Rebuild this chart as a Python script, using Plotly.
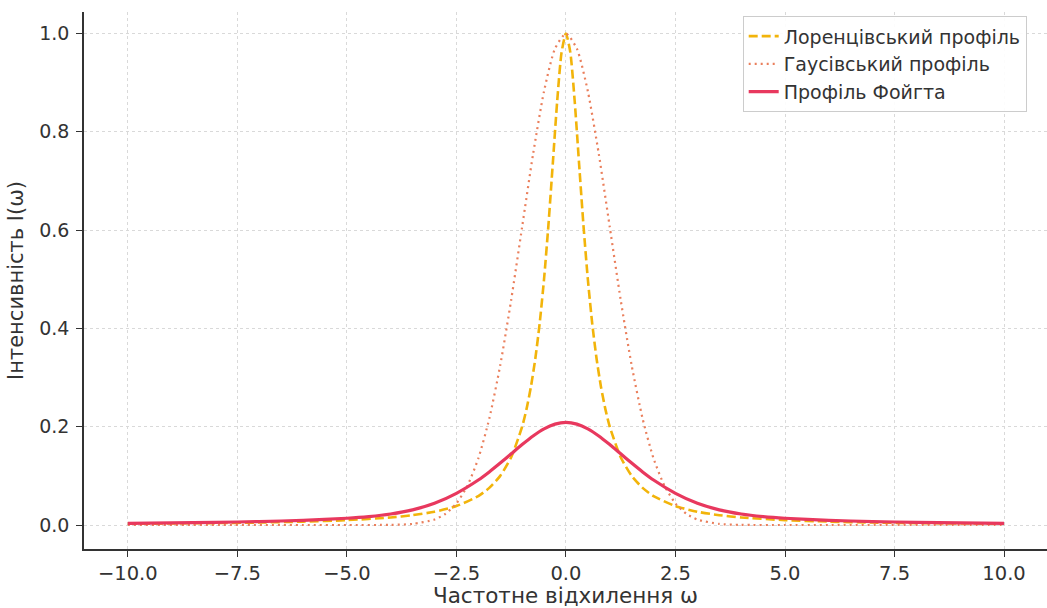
import plotly.graph_objects as go

# Frequency detuning samples (omega) for each profile
omega_lor = [-10, -8, -7, -6, -5, -4, -3.5, -3, -2.5, -2, -1.75, -1.5, -1.25, -1.0, -0.9, -0.8,
             -0.7, -0.6, -0.5, -0.4, -0.3, -0.2, -0.1, 0, 0.1, 0.2, 0.3, 0.4, 0.5, 0.6, 0.7,
             0.8, 0.9, 1.0, 1.25, 1.5, 1.75, 2, 2.5, 3, 3.5, 4, 5, 6, 7, 8, 10]
lorentz = [0.0025, 0.0039, 0.0051, 0.0069, 0.0099, 0.0154, 0.0200, 0.0270, 0.0385, 0.0588,
           0.0755, 0.1000, 0.1379, 0.2000, 0.2358, 0.2809, 0.3378, 0.4098, 0.5000, 0.6098,
           0.7353, 0.8621, 0.9615, 1.0000, 0.9615, 0.8621, 0.7353, 0.6098, 0.5000, 0.4098,
           0.3378, 0.2809, 0.2358, 0.2000, 0.1379, 0.1000, 0.0755, 0.0588, 0.0385, 0.0270,
           0.0200, 0.0154, 0.0099, 0.0069, 0.0051, 0.0039, 0.0025]

omega_gauss = [-10, -6, -5, -4, -3.5, -3, -2.75, -2.5, -2.25, -2, -1.75, -1.5, -1.25, -1, -0.75,
               -0.5, -0.25, 0, 0.25, 0.5, 0.75, 1, 1.25, 1.5, 1.75, 2, 2.25, 2.5, 2.75, 3,
               3.5, 4, 5, 6, 10]
gauss = [0.0, 0.0, 0.0, 0.0003, 0.0022, 0.0111, 0.0228, 0.0439, 0.0796, 0.1353, 0.2163,
         0.3247, 0.4578, 0.6065, 0.7548, 0.8825, 0.9692, 1.0000, 0.9692, 0.8825, 0.7548,
         0.6065, 0.4578, 0.3247, 0.2163, 0.1353, 0.0796, 0.0439, 0.0228, 0.0111, 0.0022,
         0.0003, 0.0, 0.0, 0.0]

omega_voigt = [-10, -9, -8, -7, -6, -5, -4.5, -4, -3.5, -3, -2.5, -2, -1.75, -1.5, -1.25, -1,
               -0.75, -0.5, -0.25, 0, 0.25, 0.5, 0.75, 1, 1.25, 1.5, 1.75, 2, 2.5, 3, 3.5,
               4, 4.5, 5, 6, 7, 8, 9, 10]
voigt = [0.0033, 0.0042, 0.0054, 0.0070, 0.0095, 0.0138, 0.0172, 0.0224, 0.0308, 0.0442,
         0.0645, 0.0915, 0.1080, 0.1260, 0.1448, 0.1636, 0.1812, 0.1956, 0.2052, 0.2087,
         0.2052, 0.1956, 0.1812, 0.1636, 0.1448, 0.1260, 0.1080, 0.0915, 0.0645, 0.0442,
         0.0308, 0.0224, 0.0172, 0.0138, 0.0095, 0.0070, 0.0054, 0.0042, 0.0033]

x_ticks = [-10.0, -7.5, -5.0, -2.5, 0.0, 2.5, 5.0, 7.5, 10.0]
y_ticks = [0.0, 0.2, 0.4, 0.6, 0.8, 1.0]


def fmt(v):
    s = f"{v:.1f}"
    return s.replace("-", "\u2212")


fig = go.Figure()
fig.add_trace(go.Scatter(
    x=omega_lor, y=lorentz, mode="lines", name="Лоренцівський профіль",
    line=dict(color="#F2B40A", width=2.6, dash="9px,4px", shape="spline", smoothing=0.6),
))
fig.add_trace(go.Scatter(
    x=omega_gauss, y=gauss, mode="lines", name="Гаусівський профіль",
    line=dict(color="#EA7F5C", width=2.2, dash="2px,4px", shape="spline", smoothing=0.6),
))
fig.add_trace(go.Scatter(
    x=omega_voigt, y=voigt, mode="lines", name="Профіль Фойгта",
    line=dict(color="#E8385E", width=3.2, shape="spline", smoothing=0.6),
))

axis_common = dict(
    showline=True, linecolor="#333333", linewidth=1.5, mirror=False,
    ticks="outside", ticklen=6, tickwidth=1.2, tickcolor="#333333",
    showgrid=True, gridcolor="#d9d9d9", gridwidth=1, griddash="3px,3px",
    zeroline=False, automargin=False,
)

fig.update_layout(
    width=1047, height=608,
    margin=dict(l=84, r=0, t=12, b=59),
    paper_bgcolor="white", plot_bgcolor="white",
    font=dict(family="DejaVu Sans", color="#333333"),
    xaxis=dict(
        range=[-11, 10.98], tickvals=x_ticks, ticktext=[fmt(v) for v in x_ticks],
        tickfont=dict(family="DejaVu Sans", size=19.5, color="#333333"),
        title=dict(text="Частотне відхилення ω", font=dict(size=21.5, color="#333333"), standoff=9),
        ticklabelstandoff=0,
        **axis_common,
    ),
    yaxis=dict(
        range=[-0.0488, 1.0437], tickvals=y_ticks, ticktext=[fmt(v) for v in y_ticks],
        tickfont=dict(family="DejaVu Sans", size=19, color="#333333"),
        title=dict(text="Інтенсивність I(ω)", font=dict(size=21, color="#333333"), standoff=10),
        ticklabelstandoff=3,
        **axis_common,
    ),
    legend=dict(
        x=0.684, y=0.992, xanchor="left", yanchor="top",
        bgcolor="rgba(255,255,255,0.9)", bordercolor="#cccccc", borderwidth=1,
        font=dict(family="DejaVu Sans", size=19, color="#333333"),
    ),
    showlegend=True,
)

fig.write_html("out.html")
